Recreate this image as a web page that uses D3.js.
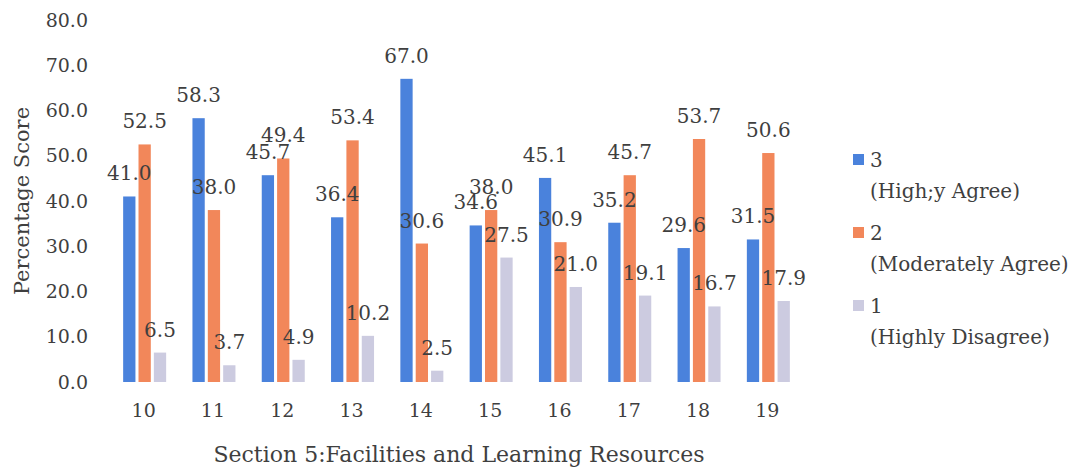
<!DOCTYPE html>
<html>
  <head>
    <meta charset="utf-8">
    <style>
      body { margin: 0; background: #fff; }
      text { font-family: "DejaVu Serif", serif; fill: #3f3f3f; }
      .domain { display: none; }
      .tick line { display: none; }
    </style>
  </head>
  <body>
    <script src="https://d3js.org/d3.v7.min.js"></script>
    <script>
    var width = 1074, height = 468;

    // data
    var questions = ["10", "11", "12", "13", "14", "15", "16", "17", "18", "19"];
    var seriesKeys = ["3", "2", "1"];
    var seriesNames = ["(High;y Agree)", "(Moderately Agree)", "(Highly Disagree)"];
    var highlyAgree = [41.0, 58.3, 45.7, 36.4, 67.0, 34.6, 45.1, 35.2, 29.6, 31.5];
    var moderatelyAgree = [52.5, 38.0, 49.4, 53.4, 30.6, 38.0, 30.9, 45.7, 53.7, 50.6];
    var highlyDisagree = [6.5, 3.7, 4.9, 10.2, 2.5, 27.5, 21.0, 19.1, 16.7, 17.9];
    var yTicks = [0, 10, 20, 30, 40, 50, 60, 70, 80];

    var colors = ["#4a82dc", "#f2875a", "#cccbe0"];
    var values = [highlyAgree, moderatelyAgree, highlyDisagree];

    var svg = d3.select("body")
        .append("svg")
        .attr("width", width)
        .attr("height", height);

    var x = d3.scaleBand().domain(questions).range([109, 802]).padding(0);
    var x1 = d3.scaleBand().domain(seriesKeys).range([0, 43]).paddingInner(0.2);
    var y = d3.scaleLinear().domain([0, 80]).range([382, 20]);
    var groupOffset = (x.bandwidth() - 43) / 2 + 1;

    // y axis
    svg.append("g")
        .attr("transform", "translate(96,0)")
        .call(d3.axisLeft(y).tickValues(yTicks).tickFormat(d3.format(".1f")).tickSize(0).tickPadding(8))
        .selectAll("text")
          .style("font-size", "19px")
          .style("font-family", "DejaVu Serif, serif")
          .attr("fill", "#3f3f3f");

    // x axis
    svg.append("g")
        .attr("transform", "translate(0,396)")
        .call(d3.axisBottom(x).tickSize(0).tickPadding(8))
        .selectAll("text")
          .style("font-size", "19px")
          .style("font-family", "DejaVu Serif, serif")
          .attr("fill", "#3f3f3f");

    // bars
    var groups = svg.append("g").selectAll("g")
        .data(questions)
        .enter().append("g")
          .attr("transform", function(d) { return "translate(" + (x(d) + groupOffset) + ",0)"; });

    seriesKeys.forEach(function(k, si) {
      groups.append("rect")
          .attr("x", x1(k))
          .attr("width", x1.bandwidth())
          .attr("y", function(d, i) { return y(values[si][i]); })
          .attr("height", function(d, i) { return y(0) - y(values[si][i]); })
          .attr("fill", colors[si]);
    });

    // value labels drawn after all bars so nothing covers them
    seriesKeys.forEach(function(k, si) {
      groups.append("text")
          .attr("x", x1(k) + x1.bandwidth() / 2)
          .attr("y", function(d, i) { return y(values[si][i]) - 16; })
          .attr("text-anchor", "middle")
          .style("font-size", "20px")
          .text(function(d, i) { return values[si][i].toFixed(1); });
    });

    // axis titles
    svg.append("text")
        .attr("transform", "translate(29,201) rotate(-90)")
        .attr("text-anchor", "middle")
        .style("font-size", "21px")
        .text("Percentage Score");

    svg.append("text")
        .attr("x", 459)
        .attr("y", 462)
        .attr("text-anchor", "middle")
        .style("font-size", "22px")
        .text("Section 5:Facilities and Learning Resources");

    // legend
    var legend = svg.append("g").selectAll("g")
        .data(seriesKeys)
        .enter().append("g")
          .attr("transform", function(d, i) { return "translate(853," + (160 + i * 73) + ")"; });

    legend.append("rect")
        .attr("x", 0)
        .attr("y", -6)
        .attr("width", 11)
        .attr("height", 11)
        .attr("fill", function(d, i) { return colors[i]; });

    legend.append("text")
        .attr("x", 17)
        .attr("y", 7)
        .style("font-size", "20px")
        .text(function(d) { return d; });

    legend.append("text")
        .attr("x", 17)
        .attr("y", 38)
        .style("font-size", "20px")
        .text(function(d, i) { return seriesNames[i]; });
    </script>
  </body>
</html>
